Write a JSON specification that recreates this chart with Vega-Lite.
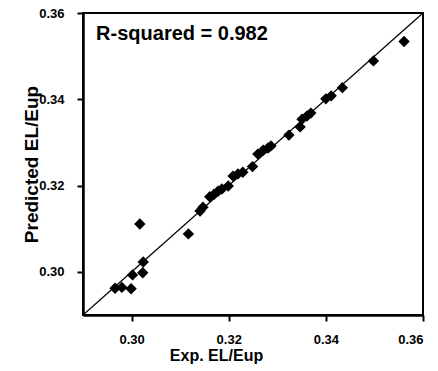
{
  "$schema": "https://vega.github.io/schema/vega-lite/v6.json",
  "width": 340,
  "height": 302,
  "autosize": {"type": "none"},
  "padding": {"left": 83, "top": 13, "right": 15, "bottom": 56},
  "background": "white",
  "config": {
    "view": {"stroke": "black", "strokeWidth": 2},
    "font": "Liberation Sans",
    "axis": {
      "grid": false,
      "domainColor": "black",
      "domainWidth": 2.5,
      "tickColor": "black",
      "tickWidth": 2,
      "tickSize": 6,
      "labelFont": "Liberation Sans",
      "labelFontWeight": "bold",
      "labelFontSize": 13,
      "labelColor": "black",
      "titleFont": "Liberation Sans",
      "titleFontWeight": "bold",
      "titleColor": "black"
    }
  },
  "datasets": {
    "pts": [
      {"exp": 0.2966, "pred": 0.2962},
      {"exp": 0.2980, "pred": 0.2964},
      {"exp": 0.2999, "pred": 0.2961},
      {"exp": 0.3002, "pred": 0.2993},
      {"exp": 0.3023, "pred": 0.2998},
      {"exp": 0.3024, "pred": 0.3023},
      {"exp": 0.3017, "pred": 0.3111},
      {"exp": 0.3117, "pred": 0.3088},
      {"exp": 0.3141, "pred": 0.3141},
      {"exp": 0.3147, "pred": 0.3150},
      {"exp": 0.3161, "pred": 0.3174},
      {"exp": 0.3170, "pred": 0.3180},
      {"exp": 0.3178, "pred": 0.3187},
      {"exp": 0.3186, "pred": 0.3192},
      {"exp": 0.3199, "pred": 0.3199},
      {"exp": 0.3209, "pred": 0.3222},
      {"exp": 0.3219, "pred": 0.3227},
      {"exp": 0.3229, "pred": 0.3231},
      {"exp": 0.3249, "pred": 0.3244},
      {"exp": 0.3260, "pred": 0.3273},
      {"exp": 0.3271, "pred": 0.3282},
      {"exp": 0.3281, "pred": 0.3287},
      {"exp": 0.3287, "pred": 0.3292},
      {"exp": 0.3324, "pred": 0.3317},
      {"exp": 0.3347, "pred": 0.3336},
      {"exp": 0.3351, "pred": 0.3354},
      {"exp": 0.3361, "pred": 0.3361},
      {"exp": 0.3369, "pred": 0.3368},
      {"exp": 0.3400, "pred": 0.3401},
      {"exp": 0.3411, "pred": 0.3408},
      {"exp": 0.3434, "pred": 0.3427},
      {"exp": 0.3498, "pred": 0.3489},
      {"exp": 0.3561, "pred": 0.3534}
    ],
    "diag": [{"x": 0.29, "y": 0.29, "x2": 0.36, "y2": 0.36}],
    "note": [{"x": 0.2927, "y": 0.3551, "label": "R-squared = 0.982"}]
  },
  "layer": [
    {
      "data": {"name": "diag"},
      "mark": {"type": "rule", "color": "black", "strokeWidth": 1.2},
      "encoding": {
        "x": {"field": "x", "type": "quantitative", "scale": {"domain": [0.29, 0.36], "nice": false, "zero": false},
              "axis": {"values": [0.30, 0.32, 0.34, 0.36], "format": ".2f", "title": "Exp. EL/Eup", "titleFontSize": 16, "labelPadding": 12, "titlePadding": 1, "titleX": 133}},
        "y": {"field": "y", "type": "quantitative", "scale": {"domain": [0.29, 0.36], "nice": false, "zero": false},
              "axis": {"values": [0.30, 0.32, 0.34, 0.36], "format": ".2f", "title": "Predicted EL/Eup", "titleFontSize": 19, "labelPadding": 13, "titlePadding": -3}},
        "x2": {"field": "x2"},
        "y2": {"field": "y2"}
      }
    },
    {
      "data": {"name": "pts"},
      "mark": {"type": "point", "shape": "diamond", "filled": true, "color": "black", "opacity": 1, "size": 130},
      "encoding": {
        "x": {"field": "exp", "type": "quantitative"},
        "y": {"field": "pred", "type": "quantitative"}
      }
    },
    {
      "data": {"name": "note"},
      "mark": {"type": "text", "align": "left", "baseline": "middle", "fontSize": 20, "fontWeight": "bold", "font": "Liberation Sans", "color": "black"},
      "encoding": {
        "x": {"field": "x", "type": "quantitative"},
        "y": {"field": "y", "type": "quantitative"},
        "text": {"field": "label"}
      }
    }
  ]
}
